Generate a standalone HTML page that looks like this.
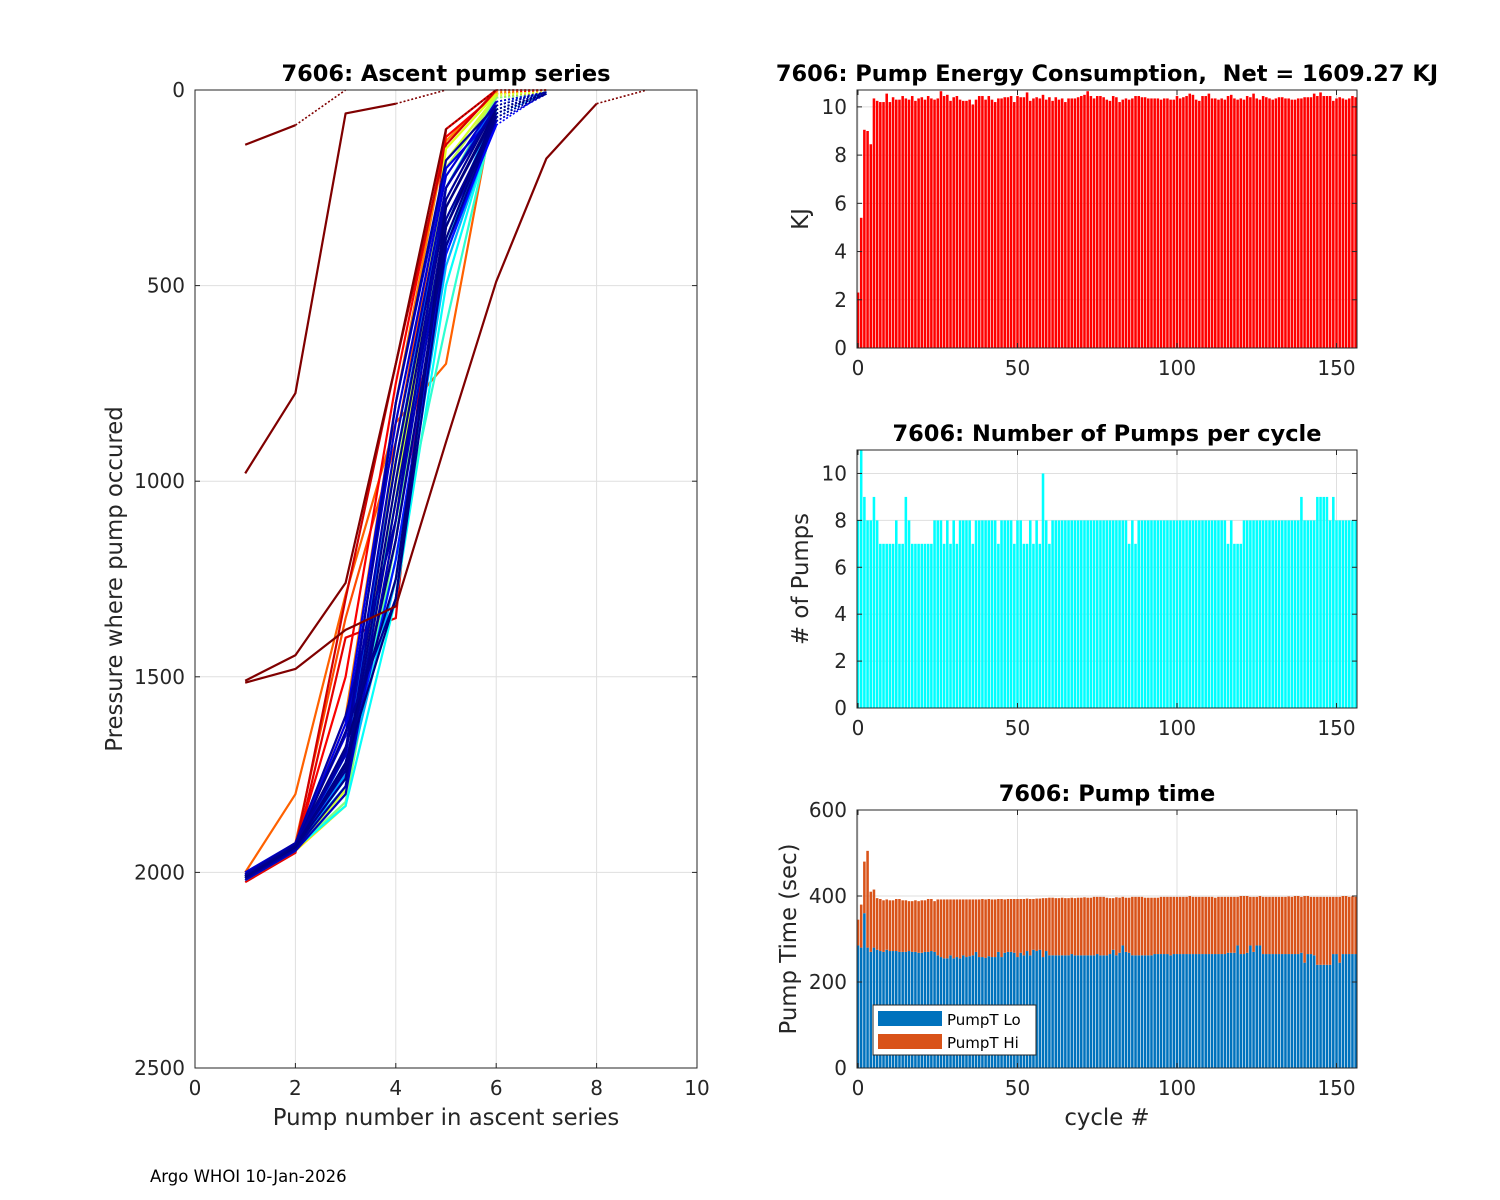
<!DOCTYPE html>
<html><head><meta charset="utf-8"><style>
body{margin:0;background:#fff;}
svg{display:block;font-family:"DejaVu Sans","Liberation Sans",sans-serif;}
text{white-space:pre;}
</style></head><body>
<svg id="fig" width="1500" height="1200" viewBox="0 0 1500 1200" xmlns="http://www.w3.org/2000/svg">
<rect width="1500" height="1200" fill="#fff"/>
<g id="left"></g>
<g id="energy"></g>
<g id="pumps"></g>
<g id="ptime"></g>
<text x="150" y="1182" font-size="16.5" fill="#000">Argo WHOI 10-Jan-2026</text>
</svg>
<script>
const energyVals=[2.3,5.4,9.05,9.0,8.45,10.35,10.25,10.2,10.2,10.55,
10.2,10.4,10.3,10.3,10.45,10.35,10.3,10.45,10.25,10.35,
10.4,10.3,10.45,10.35,10.3,10.35,10.65,10.45,10.5,10.25,
10.4,10.45,10.3,10.25,10.25,10.3,10.1,10.3,10.45,10.45,
10.3,10.45,10.3,10.2,10.35,10.35,10.4,10.4,10.45,10.2,
10.45,10.4,10.4,10.6,10.25,10.35,10.4,10.35,10.5,10.3,
10.4,10.25,10.4,10.3,10.35,10.2,10.35,10.35,10.35,10.4,
10.45,10.5,10.65,10.45,10.35,10.45,10.45,10.4,10.3,10.25,
10.45,10.4,10.2,10.3,10.35,10.3,10.35,10.45,10.45,10.4,
10.4,10.35,10.35,10.35,10.35,10.3,10.35,10.35,10.3,10.3,
10.45,10.35,10.4,10.45,10.55,10.5,10.3,10.25,10.45,10.45,
10.55,10.35,10.35,10.3,10.35,10.3,10.45,10.5,10.35,10.3,
10.35,10.3,10.45,10.4,10.55,10.35,10.3,10.45,10.4,10.35,
10.3,10.35,10.4,10.4,10.35,10.35,10.3,10.3,10.35,10.35,
10.4,10.4,10.4,10.55,10.45,10.6,10.45,10.45,10.45,10.25,
10.35,10.4,10.35,10.3,10.35,10.45,10.4];
const pumpCounts=[8,11,9,8,8,9,8,7,7,7,
7,7,8,7,7,9,8,7,7,7,
7,7,7,7,8,8,8,7,8,7,
8,7,8,8,8,8,7,8,8,8,
8,8,8,8,7,8,8,8,8,7,
8,8,7,7,8,7,8,7,10,8,
7,8,8,8,8,8,8,8,8,8,
8,8,8,8,8,8,8,8,8,8,
8,8,8,8,8,7,8,7,8,8,
8,8,8,8,8,8,8,8,8,8,
8,8,8,8,8,8,8,8,8,8,
8,8,8,8,8,8,7,8,7,7,
7,8,8,8,8,8,8,8,8,8,
8,8,8,8,8,8,8,8,8,9,
8,8,8,8,9,9,9,9,8,9,
8,8,8,8,8,8,8];
const pumpTLo=[285,280,360,280,270,280,275,272,270,275,
272,272,272,270,270,270,272,270,270,268,
268,270,270,272,270,262,258,255,255,262,
255,258,255,262,258,260,262,270,258,258,
256,260,258,258,270,258,268,270,270,268,
258,268,262,272,262,275,272,275,258,272,
262,262,262,262,262,262,262,265,262,262,
262,262,262,262,262,265,262,262,262,265,
275,262,268,285,270,268,262,262,262,262,
262,262,262,265,265,265,265,265,262,265,
265,265,265,265,265,265,265,265,265,265,
265,265,265,265,265,265,268,268,268,285,
265,265,268,285,270,285,285,265,265,265,
265,265,265,265,265,265,265,265,265,268,
245,265,265,262,240,240,240,240,240,265,
265,245,265,265,265,265,265];
const pumpTTotal=[345,380,480,505,410,415,395,393,390,392,
390,390,393,393,390,390,388,388,390,388,
390,390,393,393,388,392,392,392,392,392,
392,392,392,392,392,392,392,392,392,393,
392,393,392,392,393,393,392,393,393,393,
393,393,393,394,393,393,394,394,395,395,
396,396,395,395,396,395,395,396,395,396,
396,397,396,396,398,398,398,398,396,395,
395,397,396,398,396,396,398,398,398,398,
396,396,396,396,396,398,398,398,398,398,
398,398,398,398,400,398,398,398,398,398,
398,398,396,398,398,398,398,398,398,398,
400,400,400,398,398,398,400,398,398,398,
398,398,398,398,398,399,398,400,400,398,
400,400,398,398,398,398,398,398,398,398,
398,398,400,400,398,399,398];
const profiles=[
[2000,1800,1290,850,700,10],[2005,1925,1350,900,200,20],[2010,1930,1600,800,130,5],
[2025,1950,1400,1350,100,0],[2015,1935,1500,750,120,10],[2020,1940,1300,700,140,0],
[2020,1945,1830,900,250,30],[2015,1940,1800,1000,200,20],[2010,1935,1830,1100,150,10],
[2015,1940,1820,1150,250,20],[2012,1935,1790,1050,180,15],
[2020,1940,1830,1300,500,60],[2010,1935,1720,1200,600,40],[2015,1938,1760,1250,400,50],
[2010,1935,1750,1050,350,50],[2015,1940,1700,950,250,30],[2010,1930,1780,1250,450,70],
[2005,1930,1760,1200,420,80],[2015,1935,1720,1150,400,90],[2010,1935,1620,800,200,60],
[2000,1925,1650,850,220,30],[2020,1945,1800,1100,350,80],[2010,1930,1700,900,250,50],
[2015,1940,1780,1050,330,70],[2005,1930,1740,950,280,40],[2010,1935,1760,1000,300,60],
[2010,1930,1680,1250,350,60],[2015,1935,1640,1300,400,70],[2005,1925,1600,1100,250,40],
[2010,1935,1720,1300,300,50],[2008,1930,1690,800,180,40],[2012,1932,1730,1150,380,60],
[140,90],[980,775,60,35],[1510,1445,1260,700,100],[1515,1480,1380,1320,900,490,175,35]];
const profileColor=[0.78,0.8,0.75,0.9,0.88,0.92,0.65,0.55,0.6,0.5,0.58,0.38,0.42,0.35,0.28,0.22,0.3,0.15,0.12,0.1,0.08,0.06,0.05,0.03,0.02,0.01,0.0,0.02,0.04,0.0,0.03,0.01,1.1,1.1,1.1,1.1];
const profileTail=[0,5,0,0,0,0,5,10,5,10,5,10,5,10,5,10,5,10,5,10,5,10,5,10,5,10,5,10,5,10,5,10,0,0,0,0];
const ascentXTicks=[0,2,4,6,8,10];
const ascentYTicks=[0,500,1000,1500,2000,2500];

const NS="http://www.w3.org/2000/svg";
function mk(parent,tag,attrs,text){const e=document.createElementNS(NS,tag);for(const k in attrs)e.setAttribute(k,attrs[k]);if(text!==undefined)e.textContent=text;parent.appendChild(e);return e;}
function jet(v){if(v>1)return "#800000";const r=Math.max(0,Math.min(1,Math.min(4*v-1.5,-4*v+4.5)));const g=Math.max(0,Math.min(1,Math.min(4*v-0.5,-4*v+3.5)));const b=Math.max(0,Math.min(1,Math.min(4*v+0.5,-4*v+2.5)));return `rgb(${Math.round(r*255)},${Math.round(g*255)},${Math.round(b*255)})`;}
const TC="#262626";
const TICK=20, LAB=22.8, TIT=22.5;

(function(){
const g=document.getElementById('left');
const L=195,R=697,T=90,B=1068;
const sx=v=>L+v/10*(R-L), sy=p=>T+p/2500*(B-T);
for(const t of ascentXTicks){const l=mk(g,'line',{x1:sx(t),x2:sx(t),y1:T,y2:B,stroke:'#dfdfdf','stroke-width':1});}
for(const t of ascentYTicks){const l=mk(g,'line',{x1:L,x2:R,y1:sy(t),y2:sy(t),stroke:'#dfdfdf','stroke-width':1});}
profiles.forEach((p,i)=>{
  const c=jet(profileColor[i]);
  const pts=p.map((v,j)=>sx(j+1)+','+sy(v)).join(' ');
  const pl=mk(g,'polyline',{points:pts,fill:'none',stroke:c,'stroke-width':2.2,'stroke-linejoin':'round'});
  
  
  const n=p.length;
  const d=mk(g,'line',{x1:sx(n),y1:sy(p[n-1]),x2:sx(n+1),y2:sy(profileTail[i]),stroke:c,'stroke-width':1.6,'stroke-dasharray':'2,2'});
  
  
});
mk(g,'rect',{x:L,y:T,width:R-L,height:B-T,fill:'none',stroke:TC,'stroke-width':1});
for(const t of ascentXTicks){mk(g,'line',{x1:sx(t),x2:sx(t),y1:B,y2:B-5,stroke:TC});const tx=mk(g,'text',{x:sx(t),y:B+27,'font-size':TICK,fill:TC,'text-anchor':'middle'},String(t));}
for(const t of ascentYTicks){mk(g,'line',{x1:L,x2:L+5,y1:sy(t),y2:sy(t),stroke:TC});mk(g,'line',{x1:R,x2:R-5,y1:sy(t),y2:sy(t),stroke:TC});const tx=mk(g,'text',{x:L-10,y:sy(t)+7,'font-size':TICK,fill:TC,'text-anchor':'end'},String(t));}
const t1=mk(g,'text',{x:446,y:81,'font-size':TIT,'font-weight':'bold','text-anchor':'middle',fill:'#000'},'7606: Ascent pump series');

const xl=mk(g,'text',{x:446,y:1125,'font-size':LAB,'text-anchor':'middle',fill:TC},'Pump number in ascent series');

const yl=mk(g,'text',{x:0,y:0,'font-size':LAB,'text-anchor':'middle',fill:TC,transform:'translate(122,579) rotate(-90)'},'Pressure where pump occured');

})();

const cycleTicks=[0,50,100,150];
function barChart(id,T,B,ymax,yticks,title,ylabel,ylx,drawBars,showX){
  const g=document.getElementById(id);
  const L=857,R=1357;
  const sx=v=>858+v*3.19, sy=v=>B-v/ymax*(B-T);
  for(const t of cycleTicks){const l=mk(g,'line',{x1:sx(t),x2:sx(t),y1:T,y2:B,stroke:'#dfdfdf'});}
  for(const t of yticks){const l=mk(g,'line',{x1:L,x2:R,y1:sy(t),y2:sy(t),stroke:'#dfdfdf'});}
  drawBars(g,sx,sy);
  mk(g,'rect',{x:L,y:T,width:R-L,height:B-T,fill:'none',stroke:TC});
  for(const t of cycleTicks){mk(g,'line',{x1:sx(t),x2:sx(t),y1:B,y2:B-5,stroke:TC});mk(g,'line',{x1:sx(t),x2:sx(t),y1:T,y2:T+5,stroke:TC});const tx=mk(g,'text',{x:sx(t),y:B+27,'font-size':TICK,fill:TC,'text-anchor':'middle'},String(t));}
  for(const t of yticks){mk(g,'line',{x1:L,x2:L+5,y1:sy(t),y2:sy(t),stroke:TC});mk(g,'line',{x1:R,x2:R-5,y1:sy(t),y2:sy(t),stroke:TC});const tx=mk(g,'text',{x:L-10,y:sy(t)+7,'font-size':TICK,fill:TC,'text-anchor':'end'},String(t));}
  const tt=mk(g,'text',{x:1107,y:T-9,'font-size':TIT,'font-weight':'bold','text-anchor':'middle',fill:'#000'},title);
  
  const yl=mk(g,'text',{x:0,y:0,'font-size':LAB,'text-anchor':'middle',fill:TC,transform:`translate(${ylx},${(T+B)/2}) rotate(-90)`},ylabel);
  
  if(showX){const xl=mk(g,'text',{x:1107,y:B+57,'font-size':LAB,'text-anchor':'middle',fill:TC},'cycle #');}
}
const bw=3.19*0.8;
barChart('energy',90,348,10.7,[0,2,4,6,8,10],'7606: Pump Energy Consumption,  Net = 1609.27 KJ','KJ',808,(g,sx,sy)=>{
  energyVals.forEach((v,i)=>{const r=mk(g,'rect',{x:sx(i)-bw/2,y:sy(v),width:bw,height:sy(0)-sy(v),fill:'#ff0000'});
  });
},false);
barChart('pumps',450,708,11,[0,2,4,6,8,10],'7606: Number of Pumps per cycle','# of Pumps',808,(g,sx,sy)=>{
  pumpCounts.forEach((v,i)=>{const r=mk(g,'rect',{x:sx(i)-bw/2,y:sy(v),width:bw,height:sy(0)-sy(v),fill:'#00ffff'});
  });
},false);
barChart('ptime',810,1068,600,[0,200,400,600],'7606: Pump time','Pump Time (sec)',796,(g,sx,sy)=>{
  pumpTLo.forEach((v,i)=>{
    const r=mk(g,'rect',{x:sx(i)-bw/2,y:sy(v),width:bw,height:sy(0)-sy(v),fill:'#0072bd'});
    
    const tot=pumpTTotal[i];
    const h=mk(g,'rect',{x:sx(i)-bw/2,y:sy(tot),width:bw,height:sy(v)-sy(tot),fill:'#d95319'});
    
  });
  const lg=mk(g,'g',{});
  
  mk(lg,'rect',{x:873,y:1005,width:163,height:50,fill:'#fff',stroke:TC});
  mk(lg,'rect',{x:878,y:1011,width:64,height:15,fill:'#0072bd'});
  mk(lg,'rect',{x:878,y:1034,width:64,height:15,fill:'#d95319'});
  const a=mk(lg,'text',{x:947,y:1025,'font-size':15,fill:'#000'},'PumpT Lo');
  const b=mk(lg,'text',{x:947,y:1048,'font-size':15,fill:'#000'},'PumpT Hi');
},true);
</script>
</body></html>
